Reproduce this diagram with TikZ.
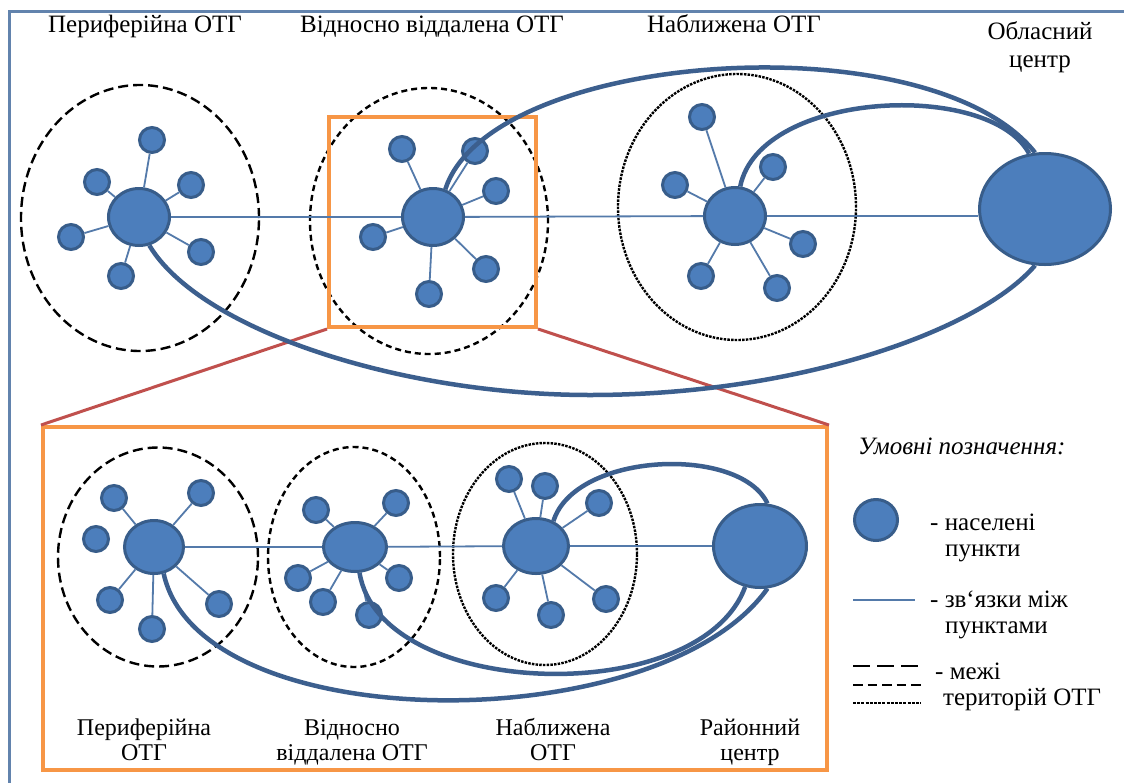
\documentclass[tikz,border=0pt]{standalone}
\usepackage{fontspec}
\setmainfont{Liberation Serif}
\usetikzlibrary{shapes.geometric}
\definecolor{nodefill}{RGB}{76,126,188}
\definecolor{nodeborder}{RGB}{56,93,138}
\definecolor{curvecol}{RGB}{60,95,142}
\definecolor{spokecol}{RGB}{84,122,170}
\definecolor{zoomorange}{RGB}{247,150,70}
\definecolor{zoomred}{RGB}{192,80,77}
\definecolor{framecol}{RGB}{98,131,173}
\tikzset{
  hub/.style={ellipse, draw=nodeborder, fill=nodefill, line width=3pt, inner sep=0pt},
  sat/.style={circle, draw=nodeborder, fill=nodefill, line width=3pt, inner sep=0pt, minimum size=25pt},
  spoke/.style={draw=spokecol, line width=1.8pt},
  link/.style={draw=curvecol, line width=4.5pt},
  zoneA/.style={ellipse, draw=black, line width=2.4pt, dash pattern=on 10pt off 5pt, inner sep=0pt},
  zoneB/.style={ellipse, draw=black, line width=2.4pt, dash pattern=on 6pt off 4pt, inner sep=0pt},
  zoneC/.style={ellipse, draw=black, line width=2.4pt, dash pattern=on 2.5pt off 1.2pt, inner sep=0pt},
  zoombox/.style={rectangle, draw=zoomorange, line width=4pt, inner sep=0pt},
  zoomline/.style={draw=zoomred, line width=3pt},
  lab/.style={font=\fontsize{25}{28}\selectfont, align=center, inner sep=0pt, anchor=base},
  lablow/.style={font=\fontsize{24}{25}\selectfont, align=center, inner sep=0pt, anchor=base},
  legtext/.style={font=\fontsize{25}{26}\selectfont, align=left, inner sep=0pt, anchor=base west},
}
\begin{document}
\begin{tikzpicture}[x=1pt,y=-1pt]
\useasboundingbox (0,0) rectangle (1124,782);
\fill[white] (0,0) rectangle (1124,782);
% outer frame
\draw[framecol, line width=3pt] (9,800) -- (9,11) -- (1140,11);

% ---------- top labels (base = baseline of the last line)
\node[lab] (t1) at (145,32) {Периферійна ОТГ};
\node[lab] (t2) at (432,32) {Відносно віддалена ОТГ};
\node[lab] (t3) at (734,32) {Наближена ОТГ};
\node[lab] (t4) at (1040,67) {Обласний\\центр};

% ---------- top zones
\node[zoneA, minimum width=238pt, minimum height=266pt] (zp) at (140,218) {};
\node[zoneB, minimum width=238pt, minimum height=266pt] (zm) at (429,221) {};
\node[zoneC, minimum width=238pt, minimum height=266pt] (zn) at (737,207) {};

% zoom box top
\node[zoombox, minimum width=207pt, minimum height=210pt] (box1) at (432.5,222) {};

% ---------- top hubs
\node[hub, minimum width=61pt, minimum height=57pt] (pc) at (139,217) {};
\node[hub, minimum width=61pt, minimum height=57pt] (mc) at (433,217) {};
\node[hub, minimum width=61pt, minimum height=57pt] (nc) at (735,216) {};
\node[hub, minimum width=131pt, minimum height=111pt] (oc) at (1045,209) {};

% top satellites
\node[sat] (p1) at (152,140) {};
\node[sat] (p2) at (97,182) {};
\node[sat] (p3) at (191,185) {};
\node[sat] (p4) at (71,237) {};
\node[sat] (p5) at (201,252) {};
\node[sat] (p6) at (121,276) {};
\node[sat] (m1) at (402,149) {};
\node[sat] (m2) at (475,151) {};
\node[sat] (m3) at (496,191) {};
\node[sat] (m4) at (373,237) {};
\node[sat] (m5) at (486,269) {};
\node[sat] (m6) at (429,294) {};
\node[sat] (n1) at (702,117) {};
\node[sat] (n2) at (675,185) {};
\node[sat] (n3) at (773,167) {};
\node[sat] (n4) at (803,244) {};
\node[sat] (n5) at (701,276) {};
\node[sat] (n6) at (777,288) {};

\foreach \s in {p1,p2,p3,p4,p5,p6} \draw[spoke] (pc) -- (\s);
\foreach \s in {m1,m2,m3,m4,m5,m6} \draw[spoke] (mc) -- (\s);
\foreach \s in {n1,n2,n3,n4,n5,n6} \draw[spoke] (nc) -- (\s);
\draw[spoke] (pc) -- (mc);
\draw[spoke] (mc) -- (nc);
\draw[spoke] (nc) -- (nc -| oc.west);

% ---------- lower zoom box and red lines
\node[zoombox, minimum width=784pt, minimum height=343pt] (box2) at (435,598.5) {};
\draw[zoomline] (box1.south west) -- (box2.north west);
\draw[zoomline] (box1.south east) -- (box2.north east);

% top curves
\coordinate (dip) at (590,395);
\draw[link] (mc.66) .. controls (490,50) and (930,20) .. (oc.100);
\draw[link] (nc.80) .. controls (760,90) and (990,80) .. (oc.106);
\draw[link] (pc.-70) .. controls (200,330) and (400,395) .. (dip)
  .. controls (800,395) and (980,330) .. (oc.-100);

% ---------- lower zones
\node[zoneA, minimum width=200pt, minimum height=219pt] (lzp) at (158,557) {};
\node[zoneB, minimum width=172pt, minimum height=220pt] (lzm) at (354,557) {};
\node[zoneC, minimum width=184pt, minimum height=222pt] (lzn) at (545,554) {};

% lower hubs
\node[hub, minimum width=59pt, minimum height=53pt] (lp) at (154,547) {};
\node[hub, minimum width=63pt, minimum height=49pt] (lm) at (355,547) {};
\node[hub, minimum width=65pt, minimum height=55pt] (ln) at (536,546) {};
\node[hub, minimum width=93pt, minimum height=83pt] (dc) at (760,546) {};

\node[sat] (a1) at (114,498) {};
\node[sat] (a2) at (201,493) {};
\node[sat] (a3) at (96,539) {};
\node[sat] (a4) at (110,600) {};
\node[sat] (a5) at (219,604) {};
\node[sat] (a6) at (152,629) {};
\node[sat] (b1) at (316,510) {};
\node[sat] (b2) at (396,503) {};
\node[sat] (b3) at (298,578) {};
\node[sat] (b4) at (323,602) {};
\node[sat] (b5) at (399,578) {};
\node[sat] (b6) at (369,615) {};
\node[sat] (c1) at (509,479) {};
\node[sat] (c2) at (545,486) {};
\node[sat] (c3) at (599,503) {};
\node[sat] (c4) at (496,598) {};
\node[sat] (c5) at (551,615) {};
\node[sat] (c6) at (606,599) {};

\foreach \s in {a1,a2,a4,a5,a6} \draw[spoke] (lp) -- (\s);
\foreach \s in {b1,b2,b3,b4,b5,b6} \draw[spoke] (lm) -- (\s);
\foreach \s in {c1,c2,c3,c4,c5,c6} \draw[spoke] (ln) -- (\s);
\draw[spoke] (lp) -- (lm);
\draw[spoke] (lm) -- (ln);
\draw[spoke] (ln) -- (dc);

% lower curves
\draw[link] (ln.55) .. controls (575,452) and (740,445) .. (dc.80);
\draw[link] (lp.-70) .. controls (200,740) and (660,740) .. (dc.-80);
\draw[link] (lm.-80) .. controls (380,700) and (700,710) .. (dc.-110);

% lower labels
\node[lablow] (l1) at (144,760) {Периферійна\\ОТГ};
\node[lablow] (l2) at (352,760) {Відносно\\віддалена ОТГ};
\node[lablow] (l3) at (553,760) {Наближена\\ОТГ};
\node[lablow] (l4) at (750,760) {Районний\\центр};

% ---------- legend
\node[legtext] (lgt) at (858,454) {\itshape Умовні позначення:};
\node[hub, minimum width=43pt, minimum height=41pt] (lg1) at (876,520) {};
\node[legtext] (lgt1) at (930,556) {- населені\\\hspace*{15pt}пункти};
\coordinate (la) at (853,600);
\coordinate (lb) at (915,600);
\draw[spoke] (la) -- (lb);
\node[legtext] (lgt2) at (930,633) {- зв‘язки між\\\hspace*{15pt}пунктами};
\coordinate (da1) at (853,666);
\coordinate (db1) at (921,666);
\coordinate (da2) at (853,685);
\coordinate (db2) at (921,685);
\coordinate (da3) at (853,703);
\coordinate (db3) at (921,703);
\draw[black, line width=2.4pt, dash pattern=on 17pt off 7pt] (da1) -- (db1);
\draw[black, line width=2.4pt, dash pattern=on 9.5pt off 5pt] (da2) -- (db2);
\draw[black, line width=2.4pt, dash pattern=on 3pt off 1.2pt] (da3) -- (db3);
\node[legtext] (lgt3) at (935,705) {- межі\\\hspace*{8pt}територій ОТГ};
\end{tikzpicture}
\end{document}
